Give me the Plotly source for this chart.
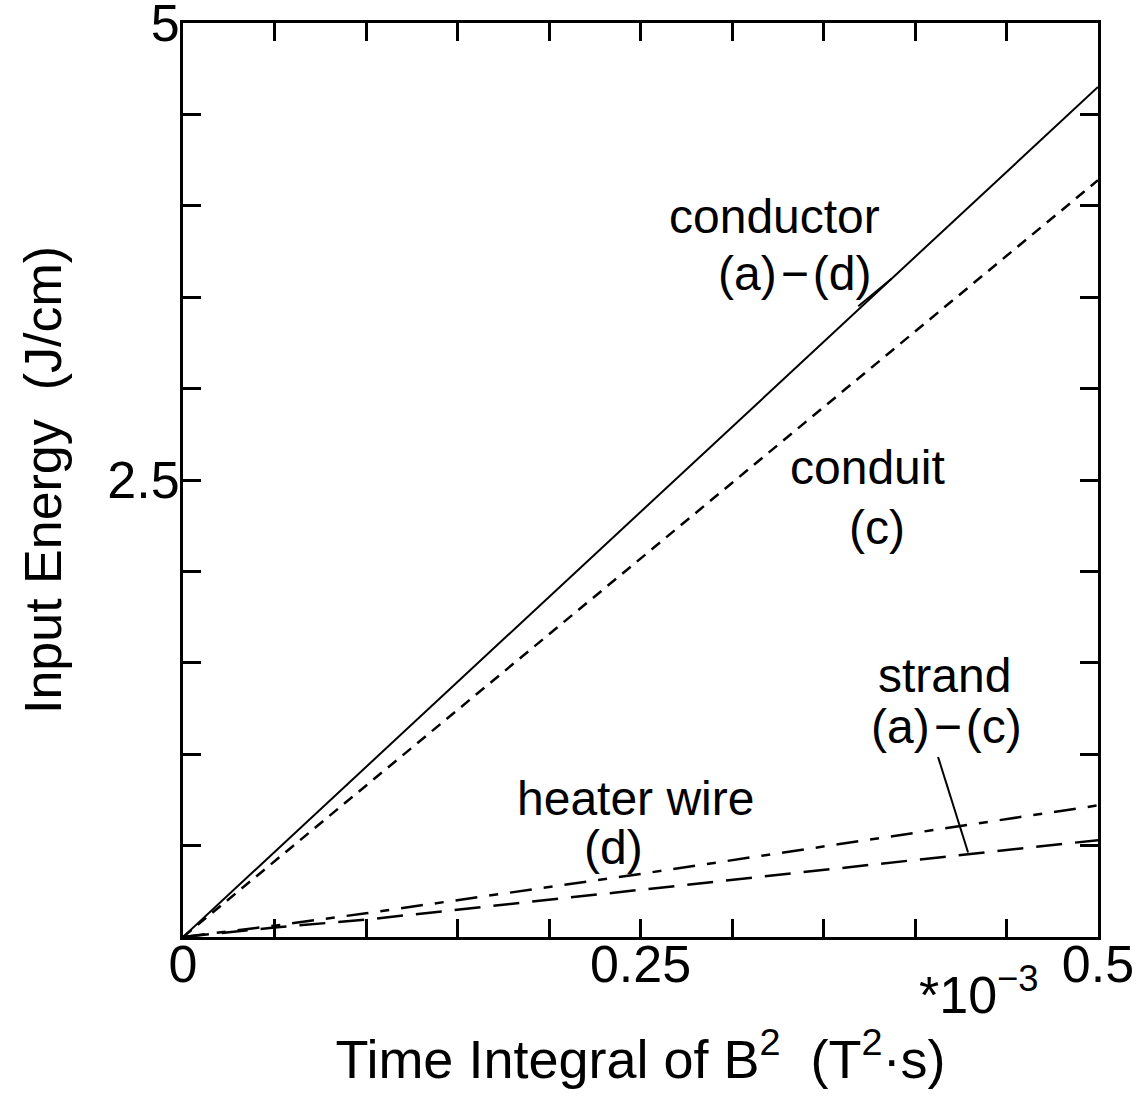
import plotly.graph_objects as go

# Time integral of B^2, in units of 1e-3 T^2*s
conductor_x = [0.0, 0.5]
conductor_y = [0.0, 4.65]

conduit_x = [0.0, 0.5]
conduit_y = [0.0, 4.14]

heater_x = [0.0, 0.05, 0.10, 0.25, 0.50]
heater_y = [0.0, 0.062, 0.13, 0.345, 0.72]

strand_x = [0.0, 0.05, 0.10, 0.25, 0.50]
strand_y = [0.0, 0.052, 0.095, 0.258, 0.53]

x_tick_vals = [0.0, 0.25, 0.5]
x_tick_text = ["0", "0.25", "0.5"]
y_tick_vals = [2.5, 5.0]
y_tick_text = ["2.5", "5"]

FONT = "Liberation Sans, Arial, Helvetica, sans-serif"
INK = "black"

fig = go.Figure()
fig.add_trace(go.Scatter(x=conductor_x, y=conductor_y, mode="lines",
                         line=dict(color=INK, width=2), name="conductor"))
fig.add_trace(go.Scatter(x=conduit_x, y=conduit_y, mode="lines",
                         line=dict(color=INK, width=2.5, dash="11px,8px"), name="conduit"))
fig.add_trace(go.Scatter(x=heater_x, y=heater_y, mode="lines",
                         line=dict(color=INK, width=2.5, dash="22px,12px,9px,12px"),
                         name="heater wire"))
fig.add_trace(go.Scatter(x=strand_x, y=strand_y, mode="lines",
                         line=dict(color=INK, width=2.5, dash="26px,13px"), name="strand"))

DASH = "\u200a\u2212\u200a"
labels = [
    ("conductor", 0.323, 3.94),
    ("(a)" + DASH + "(d)", 0.334, 3.63),
    ("conduit", 0.374, 2.57),
    ("(c)", 0.379, 2.24),
    ("strand", 0.416, 1.43),
    ("(a)" + DASH + "(c)", 0.417, 1.15),
    ("heater wire", 0.2475, 0.76),
    ("(d)", 0.2355, 0.487),
]
for text, x, y in labels:
    fig.add_annotation(x=x, y=y, text=text, showarrow=False,
                       font=dict(family=FONT, size=48, color=INK))

# leader lines from labels to curves
fig.add_shape(type="line", x0=0.369, y0=3.45, x1=0.387, y1=3.60,
              line=dict(color=INK, width=2))
fig.add_shape(type="line", x0=0.4126, y0=0.985, x1=0.429, y1=0.462,
              line=dict(color=INK, width=2))

# exponent of the x axis
fig.add_annotation(xref="paper", yref="paper", x=0.938, y=-0.097,
                   text="*10<sup>−3</sup>", showarrow=False,
                   font=dict(family=FONT, size=52, color=INK))

axis_common = dict(
    showgrid=False, zeroline=False, showline=True, linecolor=INK, linewidth=3,
    mirror="ticks", ticks="inside", ticklen=18, tickwidth=3, tickcolor=INK,
    tickfont=dict(family=FONT, size=52, color=INK),
    ticklabeloverflow="allow", automargin=False,
)

fig.update_layout(
    width=1146, height=1100,
    margin=dict(l=183, r=48, t=23, b=163),
    paper_bgcolor="white", plot_bgcolor="white",
    showlegend=False,
    xaxis=dict(range=[0, 0.5], tickmode="array", tickvals=x_tick_vals,
               ticktext=x_tick_text, ticklabelstandoff=-20,
               minor=dict(dtick=0.05, tick0=0, ticks="inside", ticklen=18,
                          tickwidth=3, tickcolor=INK, showgrid=False),
               title=dict(text="Time Integral of B<sup>2</sup>  (T<sup>2</sup>·s)",
                          font=dict(family=FONT, size=54, color=INK), standoff=48),
               **axis_common),
    yaxis=dict(range=[0, 5], tickmode="array", tickvals=y_tick_vals,
               ticktext=y_tick_text, ticklabelstandoff=-10,
               minor=dict(dtick=0.5, tick0=0, ticks="inside", ticklen=18,
                          tickwidth=3, tickcolor=INK, showgrid=False),
               title=dict(text="Input Energy  (J/cm)",
                          font=dict(family=FONT, size=52, color=INK), standoff=30),
               **axis_common),
)

fig.write_html("out.html")
